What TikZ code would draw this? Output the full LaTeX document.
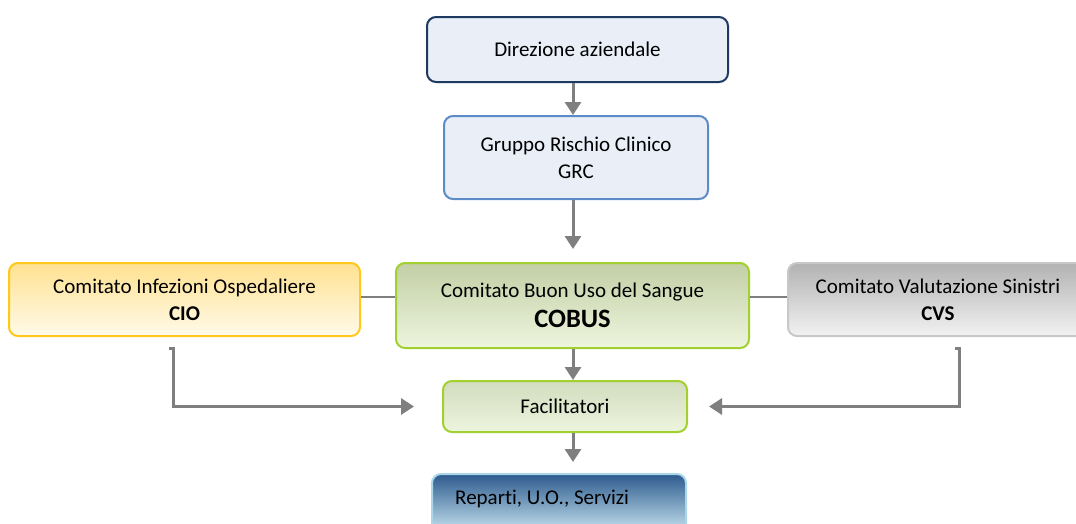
\documentclass[tikz,border=0pt]{standalone}
\usepackage{fontspec}
\setmainfont{Carlito}[Ligatures={NoCommon}]
\usetikzlibrary{arrows.meta}
\definecolor{arrgray}{HTML}{7F7F7F}
\definecolor{navy}{HTML}{1F3A60}
\definecolor{paleblue}{HTML}{E9EEF7}
\definecolor{midblue}{HTML}{5B8CC8}
\definecolor{gold}{HTML}{FFC81A}
\definecolor{goldtop}{HTML}{FFE190}
\definecolor{goldbot}{HTML}{FFFBEA}
\definecolor{lime}{HTML}{A2D02E}
\definecolor{greentop}{HTML}{C3CFA5}
\definecolor{greenbot}{HTML}{EDF5DE}
\definecolor{factop}{HTML}{D2DCBD}
\definecolor{greyedge}{HTML}{C8C8C8}
\definecolor{greytop}{HTML}{B2B2B2}
\definecolor{greybot}{HTML}{F2F2F2}
\definecolor{reptop}{HTML}{2D5A8E}
\definecolor{repbot}{HTML}{CBE8F2}
\definecolor{repedge}{HTML}{A9D6E8}
\begin{document}
\begin{tikzpicture}[x=1pt,y=-1pt,
  box/.style={rounded corners=9pt, line width=2pt, inner sep=0pt, align=center,
    font=\fontsize{21}{27}\selectfont, text=black},
  arr/.style={draw=arrgray, line width=3pt, -{Triangle[length=13pt,width=16pt]}},
  link/.style={draw=arrgray, line width=1.5pt}]
\clip (0,0) rectangle (1076,523);
\useasboundingbox (0,0) rectangle (1076,523);
\fill[white] (0,0) rectangle (1076,523);

\node[box, draw=navy, fill=paleblue, minimum width=301pt, minimum height=65pt] (dir) at (577.5,49.5) {Direzione aziendale};
\node[box, draw=midblue, fill=paleblue, minimum width=264pt, minimum height=83pt] (grc) at (576,157.5) {Gruppo Rischio Clinico\\GRC};
\node[box, draw=gold, top color=goldtop, bottom color=goldbot, minimum width=351pt, minimum height=73pt] (cio) at (184.5,299.5) {Comitato Infezioni Ospedaliere\\\textbf{CIO}};
\node[box, draw=lime, top color=greentop, bottom color=greenbot, minimum width=353pt, minimum height=85pt] (cobus) at (572.5,305.5) {Comitato Buon Uso del Sangue\\[3pt]{\fontsize{26.5}{27}\selectfont\textbf{COBUS}}};
\node[box, draw=greyedge, top color=greytop, bottom color=greybot, minimum width=300pt, minimum height=73pt] (cvs) at (938,299.5) {Comitato Valutazione Sinistri\\\textbf{CVS}};
\node[box, draw=lime, top color=factop, bottom color=greenbot, minimum width=244pt, minimum height=51pt] (fac) at (565,406.5) {Facilitatori};
\node[box, draw=repedge, top color=reptop, bottom color=repbot, minimum width=254pt, minimum height=60pt] (rep) at (559,504) {};
\node[anchor=west, inner sep=0pt, font=\fontsize{21}{27}\selectfont] (reptext) at (455,499) {Reparti, U.O., Servizi};

\coordinate (ax) at (573,0);
\coordinate (cioA) at (173,348);
\coordinate (cioB) at (169,348);
\coordinate (cvsA) at (959,348);
\coordinate (cvsB) at (955,348);
\coordinate (ly) at (0,297);

\draw[arr] (ax |- dir.south) -- (ax |- grc.north);
\draw[arr, shorten >=13pt] (ax |- grc.south) -- (ax |- cobus.north);
\draw[arr] (ax |- cobus.south) -- (ax |- fac.north);
\draw[arr, shorten >=11pt] (ax |- fac.south) -- (ax |- rep.north);

\draw[link] (cio.east |- ly) -- (cobus.west |- ly);
\draw[link] (cobus.east |- ly) -- (cvs.west |- ly);

\draw[arr, shorten >=28pt] (cioB) -- (cioA) |- (fac.west);
\draw[arr, shorten >=21pt] (cvsB) -- (cvsA) |- (fac.east);
\end{tikzpicture}
\end{document}
